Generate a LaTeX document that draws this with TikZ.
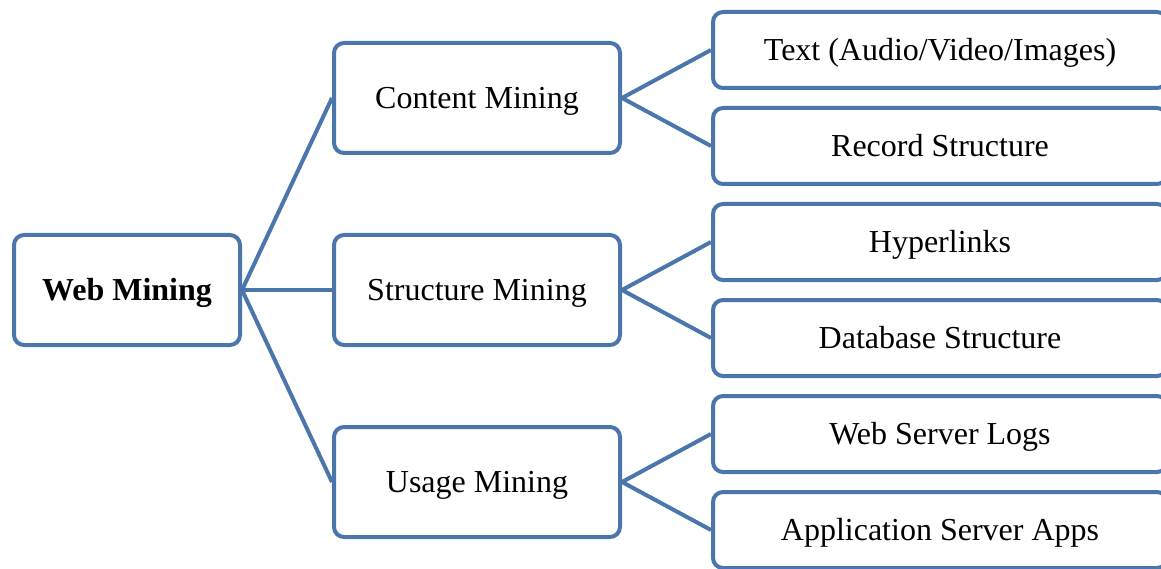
\documentclass[tikz,border=0pt]{standalone}
\usepackage{fontspec}
\setmainfont{Liberation Serif}
\definecolor{treeblue}{HTML}{4A76AC}
\begin{document}
\begin{tikzpicture}[x=1pt,y=-1pt,
  box/.style={draw=treeblue, line width=4pt, rounded corners=10pt, fill=white,
    inner sep=0pt, text height=21.5pt, text depth=0pt,
    font=\fontsize{32}{38}\selectfont},
  rootbox/.style={box, minimum width=226pt, minimum height=110pt},
  midbox/.style={box, minimum width=286pt, minimum height=110pt},
  leafbox/.style={box, minimum width=454pt, minimum height=76pt},
  link/.style={draw=treeblue, line width=4pt}]
\useasboundingbox (0,0) rectangle (1161,569);
\clip (0,0) rectangle (1161,569);

% root
\node[rootbox, font=\fontsize{32}{38}\selectfont\bfseries] (web) at (127,290) {Web Mining};

% second level
\node[midbox] (content) at (477,98) {Content Mining};
\node[midbox] (structure) at (477,290) {Structure Mining};
\node[midbox] (usage) at (477,482) {Usage Mining};

% leaves
\node[leafbox] (text) at (940,50) {Text (Audio/Video/Images)};
\node[leafbox] (record) at (940,146) {Record Structure};
\node[leafbox] (hyper) at (940,242) {Hyperlinks};
\node[leafbox] (db) at (940,338) {Database Structure};
\node[leafbox] (logs) at (940,434) {Web Server Logs};
\node[leafbox] (apps) at (940,530) {Application Server Apps};

% connectors
\draw[link] (web.east) -- (content.west);
\draw[link] (web.east) -- (structure.west);
\draw[link] (web.east) -- (usage.west);
\draw[link] (content.east) -- (text.west);
\draw[link] (content.east) -- (record.west);
\draw[link] (structure.east) -- (hyper.west);
\draw[link] (structure.east) -- (db.west);
\draw[link] (usage.east) -- (logs.west);
\draw[link] (usage.east) -- (apps.west);
\end{tikzpicture}
\end{document}
